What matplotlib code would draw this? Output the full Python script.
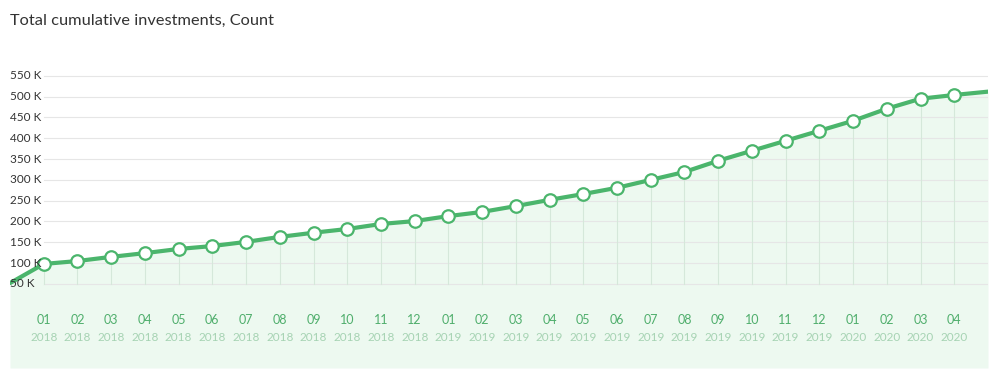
import matplotlib.pyplot as plt
import matplotlib.transforms as mtransforms

MONTHS = ['01', '02', '03', '04', '05', '06', '07', '08', '09', '10', '11', '12',
          '01', '02', '03', '04', '05', '06', '07', '08', '09', '10', '11', '12',
          '01', '02', '03', '04']
YEARS = ['2018'] * 12 + ['2019'] * 12 + ['2020'] * 4
# cumulative investments, thousands
VALUES = [98, 105, 115, 124, 134, 141, 151, 163, 173, 182, 194, 201,
          213, 223, 237, 252, 266, 281, 300, 319, 346, 370, 394, 418,
          442, 471, 495, 504]
# values just outside the shown months (line runs off both edges)
START_VALUE = 52
END_VALUE = 512
YTICKS = [50, 100, 150, 200, 250, 300, 350, 400, 450, 500, 550]

LINE = '#4bb56c'
FILL = '#edf9f0'
GRID = '#e6e6e6'
VGRID = '#d5e8da'
TEXT = '#333333'

plt.rcParams['font.family'] = ['Lato', 'DejaVu Sans']

fig = plt.figure(figsize=(10, 3.81), dpi=100)
ax = fig.add_axes([0.01, 13 / 381, 0.978, 298 / 381])

xs = list(range(len(VALUES)))
full_x = [-1] + xs + [len(VALUES)]
full_y = [START_VALUE] + VALUES + [END_VALUE]

ymin, ymax = -152, 564
ax.set_xlim(-1, len(VALUES))
ax.set_ylim(ymin, ymax)

ax.fill_between(full_x, full_y, ymin, color=FILL, lw=0, zorder=0)

# horizontal grid
for t in YTICKS:
    ax.plot([0, len(VALUES)], [t, t], color=GRID, lw=0.8, zorder=1)
# vertical grid up to the line
for x, v in zip(xs, VALUES):
    ax.plot([x, x], [50, v], color=VGRID, lw=0.8, zorder=1)

ax.plot(full_x, full_y, color=LINE, lw=3, zorder=3, solid_capstyle='round')
ax.plot(xs, VALUES, 'o', ms=9, mfc='white', mec=LINE, mew=1.6, zorder=4)

ytrans = mtransforms.blended_transform_factory(ax.transAxes, ax.transData)
for t in YTICKS:
    ax.text(0, t, '{} K'.format(t), transform=ytrans, ha='left', va='center',
            fontsize=8.5, color=TEXT, zorder=5)

xtrans = ax.get_xaxis_transform()
for x, m, yr in zip(xs, MONTHS, YEARS):
    ax.text(x, 0.161, m, transform=xtrans, ha='center', va='center',
            fontsize=9, color='#4fae6c', zorder=5)
    ax.text(x, 0.104, yr, transform=xtrans, ha='center', va='center',
            fontsize=8.5, color='#a6d3b3', zorder=5)

for s in ax.spines.values():
    s.set_visible(False)
ax.set_xticks([])
ax.set_yticks([])

fig.text(0.01, 1 - 21 / 381, 'Total cumulative investments, Count', ha='left',
         va='center', fontsize=11.8, color=TEXT)

fig.savefig('out.png', dpi=100)
